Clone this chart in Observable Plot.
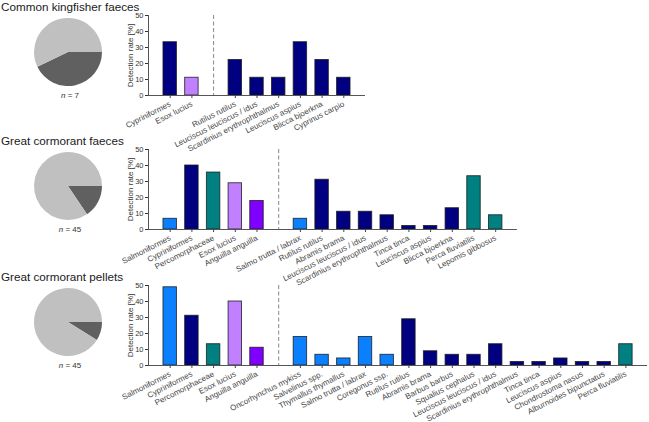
<!DOCTYPE html>
<html><head><meta charset="utf-8">
<script src="https://cdn.jsdelivr.net/npm/d3@7"></script>
<script src="https://cdn.jsdelivr.net/npm/@observablehq/plot@0.6"></script>
<style>
body{margin:0;background:#fff;font-family:"Liberation Sans",Arial,sans-serif;}
#root{position:relative;width:649px;height:422px;overflow:hidden;background:#fff;}
.panel{position:absolute;left:0;width:649px;}
.title{position:absolute;left:1px;top:0;font-size:11.7px;line-height:13px;color:#1a1a1a;z-index:2;white-space:nowrap;}
</style></head><body><div id="root"></div>
<script>
// taxonomic groups and their bar colours
const groups = ["Salmoniformes","Cypriniformes","Percomorphaceae","Esox lucius","Anguilla anguilla"];
const groupColors = ["#0a80ff","#000080","#008080","#c080ff","#8000ff"];
const pieColors = ["#606060","#c0c0c0"];
const yTicks = [0,10,20,30,40,50];

// Panel 1: Common kingfisher faeces
const kfTitle = "Common kingfisher faeces";
const kfN = 7;
const kfPie = [3, 4];
const kfOrders = ["Cypriniformes","Esox lucius"];
const kfOrderValues = [33.3, 11.1];
const kfOrderGroups = ["Cypriniformes","Esox lucius"];
const kfSpecies = ["Rutilus rutilus","Leuciscus leuciscus / idus","Scardinius erythrophthalmus","Leuciscus aspius","Blicca bjoerkna","Cyprinus carpio"];
const kfSpeciesValues = [22.2, 11.1, 11.1, 33.3, 22.2, 11.1];
const kfSpeciesGroups = ["Cypriniformes","Cypriniformes","Cypriniformes","Cypriniformes","Cypriniformes","Cypriniformes"];

// Panel 2: Great cormorant faeces
const cfTitle = "Great cormorant faeces";
const cfN = 45;
const cfPie = [7, 38];
const cfOrders = ["Salmoniformes","Cypriniformes","Percomorphaceae","Esox lucius","Anguilla anguilla"];
const cfOrderValues = [6.7, 40.0, 35.6, 28.9, 17.8];
const cfOrderGroups = ["Salmoniformes","Cypriniformes","Percomorphaceae","Esox lucius","Anguilla anguilla"];
const cfSpecies = ["Salmo trutta / labrax","Rutilus rutilus","Abramis brama","Leuciscus leuciscus / idus","Scardinius erythrophthalmus","Tinca tinca","Leuciscus aspius","Blicca bjoerkna","Perca fluviatilis","Lepomis gibbosus"];
const cfSpeciesValues = [6.7, 31.1, 11.1, 11.1, 8.9, 2.2, 2.2, 13.3, 33.3, 8.9];
const cfSpeciesGroups = ["Salmoniformes","Cypriniformes","Cypriniformes","Cypriniformes","Cypriniformes","Cypriniformes","Cypriniformes","Cypriniformes","Percomorphaceae","Percomorphaceae"];

// Panel 3: Great cormorant pellets
const cpTitle = "Great cormorant pellets";
const cpN = 45;
const cpPie = [4, 41];
const cpOrders = ["Salmoniformes","Cypriniformes","Percomorphaceae","Esox lucius","Anguilla anguilla"];
const cpOrderValues = [48.9, 31.1, 13.3, 40.0, 11.1];
const cpOrderGroups = ["Salmoniformes","Cypriniformes","Percomorphaceae","Esox lucius","Anguilla anguilla"];
const cpSpecies = ["Oncorhynchus mykiss","Salvelinus spp.","Thymallus thymallus","Salmo trutta / labrax","Coregonus ssp.","Rutilus rutilus","Abramis brama","Barbus barbus","Squalius cephalus","Leuciscus leuciscus / idus","Scardinius erythrophthalmus","Tinca tinca","Leuciscus aspius","Chondrostoma nasus","Alburnoides bipunctatus","Perca fluviatilis"];
const cpSpeciesValues = [17.8, 6.7, 4.4, 17.8, 6.7, 28.9, 8.9, 6.7, 6.7, 13.3, 2.2, 2.2, 4.4, 2.2, 2.2, 13.3];
const cpSpeciesGroups = ["Salmoniformes","Salmoniformes","Salmoniformes","Salmoniformes","Salmoniformes","Cypriniformes","Cypriniformes","Cypriniformes","Cypriniformes","Cypriniformes","Cypriniformes","Cypriniformes","Cypriniformes","Cypriniformes","Cypriniformes","Percomorphaceae"];

const FONT = "'Liberation Sans', Arial, sans-serif";
const PITCH = 21.7;
const LEFT = 148;

function pieMark(counts, n) {
  return (index, scales, values, dimensions) => {
    const g = d3.create("svg:g");
    const cx = dimensions.marginLeft - 80, cy = dimensions.marginTop + 37, r = 34;
    const arcs = d3.pie().sort(null).startAngle(Math.PI / 2).endAngle(Math.PI / 2 + 2 * Math.PI)(counts);
    g.selectAll("path").data(arcs).join("path")
      .attr("transform", `translate(${cx},${cy})`)
      .attr("d", d3.arc().innerRadius(0).outerRadius(r))
      .attr("fill", (d, i) => pieColors[i]);
    const t = g.append("text")
      .attr("x", cx + 2).attr("y", dimensions.height - dimensions.marginBottom + 2.5)
      .attr("text-anchor", "middle").attr("font-size", 8).attr("fill", "#333")
      .attr("font-family", FONT);
    t.append("tspan").attr("font-style", "italic").text("n");
    t.append("tspan").text(" = " + n);
    return g.node();
  };
}

function panel(top, title, n, pie, orders, orderValues, orderGroups, species, speciesValues, speciesGroups) {
  const labels = [...orders, "", ...species];
  const vals = [...orderValues, null, ...speciesValues];
  const grps = [...orderGroups, null, ...speciesGroups];
  const gap = orders.length;
  const data = labels.map((l, i) => ({i, label: l, v: vals[i], g: grps[i]})).filter(d => d.v != null);
  const S = labels.length;
  const width = 649;
  const right = LEFT + PITCH * (S + 1);
  const height = 152;
  const chart = Plot.plot({
    width, height,
    marginLeft: LEFT, marginRight: width - right, marginTop: 15, marginBottom: 57,
    style: {background: "transparent", overflow: "visible", fontFamily: FONT},
    x: {domain: [-1, S], label: null},
    y: {domain: [0, 50], label: null},
    color: {domain: groups, range: groupColors},
    marks: [
      Plot.rect(data, {x1: d => d.i - 0.31, x2: d => d.i + 0.31, y1: 0, y2: "v", fill: "g", stroke: "#1a1a1a", strokeWidth: 0.9, strokeOpacity: 0.85}),
      Plot.ruleX([gap], {stroke: "#888", strokeDasharray: "4,2.5", strokeWidth: 1}),
      Plot.ruleY([0], {stroke: "#555", strokeWidth: 1}),
      Plot.ruleX([-1], {y1: 0, y2: 50, stroke: "#555", strokeWidth: 1}),
      Plot.axisY({ticks: yTicks, tickSize: 3, tickPadding: 2, fontSize: 7.5, color: "#333", label: null}),
      Plot.axisX({ticks: data.map(d => d.i), tickFormat: i => labels[i], tickRotate: -27, tickSize: 3, tickPadding: 5, fontSize: 8, color: "#444", label: null}),
      Plot.text(["Detection rate [%]"], {frameAnchor: "left", textAnchor: "middle", dx: -18, rotate: -90, fontSize: 8, fill: "#333"}),
      pieMark(pie, n)
    ]
  });
  const div = document.createElement("div");
  div.className = "panel";
  div.style.top = top + "px";
  div.style.height = height + "px";
  const h = document.createElement("div");
  h.className = "title";
  h.textContent = title;
  div.appendChild(chart);
  div.appendChild(h);
  document.getElementById("root").appendChild(div);
}

panel(0, kfTitle, kfN, kfPie, kfOrders, kfOrderValues, kfOrderGroups, kfSpecies, kfSpeciesValues, kfSpeciesGroups);
panel(134, cfTitle, cfN, cfPie, cfOrders, cfOrderValues, cfOrderGroups, cfSpecies, cfSpeciesValues, cfSpeciesGroups);
panel(270, cpTitle, cpN, cpPie, cpOrders, cpOrderValues, cpOrderGroups, cpSpecies, cpSpeciesValues, cpSpeciesGroups);
</script></body></html>
